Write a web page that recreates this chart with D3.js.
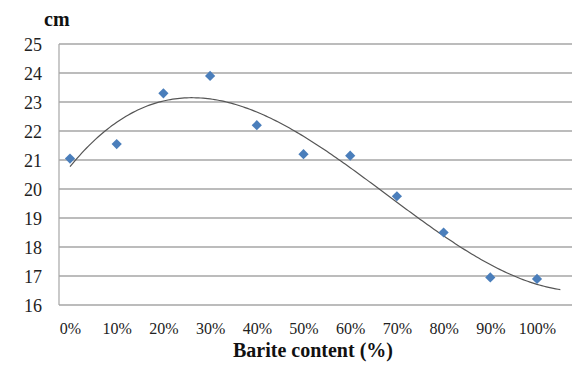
<!DOCTYPE html>
<html>
<head>
<meta charset="utf-8">
<script src="https://cdn.jsdelivr.net/npm/d3@7"></script>
<style>
  body { margin: 0; background: #fff; }
  svg { display: block; }
</style>
</head>
<body>
<div id="chart"></div>
<script>
// -DATA-
const categories = ["0%", "10%", "20%", "30%", "40%", "50%", "60%", "70%", "80%", "90%", "100%"];
const values = [21.05, 21.55, 23.3, 23.9, 22.2, 21.2, 21.15, 19.75, 18.5, 16.95, 16.9];
const yTicks = [16, 17, 18, 19, 20, 21, 22, 23, 24, 25];

// -SIZES-
const svg_w = 572;
const svg_h = 376;
const plotLeft = 59;
const plotRight = 572;
const plotTop = 44;
const plotBottom = 305;

const pointColor = "#4a7ebb";
const gridColor = "#a6a6a6";
const serif = "Liberation Serif";

// category index -> x (index 0 sits a bit right of the axis)
const xScale = d3.scaleLinear()
    .domain([0, categories.length - 1])
    .range([70, 537]);

const yScale = d3.scaleLinear()
    .domain([16, 25])
    .range([plotBottom, plotTop]);

const svg = d3.select("#chart")
    .append("svg")
    .attr("width", svg_w)
    .attr("height", svg_h)
    .attr("font-family", serif);

// -GRID-
svg.append("g")
    .selectAll("line")
    .data(yTicks)
    .enter()
    .append("line")
    .attr("x1", plotLeft)
    .attr("x2", plotRight)
    .attr("y1", d => yScale(d))
    .attr("y2", d => yScale(d))
    .attr("stroke", gridColor)
    .attr("stroke-width", 1.5);

// y axis line
svg.append("line")
    .attr("x1", plotLeft).attr("x2", plotLeft)
    .attr("y1", plotTop).attr("y2", plotBottom)
    .attr("stroke", gridColor)
    .attr("stroke-width", 1.2);

// -AXES- (labels only, no ticks)
const yAxis = d3.axisLeft(yScale).tickValues(yTicks).tickSize(0).tickPadding(0);
const gy = svg.append("g")
    .attr("transform", "translate(42,0)")
    .call(yAxis)
    .attr("font-family", serif);
gy.select(".domain").remove();
gy.selectAll("text")
    .attr("font-size", "18px")
    .attr("fill", "#222")
    .attr("dy", "0.34em");

const xAxis = d3.axisBottom(xScale)
    .tickValues(d3.range(categories.length))
    .tickFormat(i => categories[i])
    .tickSize(0)
    .tickPadding(0);
const gx = svg.append("g")
    .attr("transform", "translate(0,323)")
    .call(xAxis)
    .attr("font-family", serif);
gx.select(".domain").remove();
gx.selectAll("text")
    .attr("font-size", "16px")
    .attr("fill", "#222");

// -TRENDLINE- (cubic least squares fit of the points)
function polyFit(xs, ys, order) {
    const n = order + 1;
    const A = [];
    for (let r = 0; r < n; r++) {
        const row = [];
        for (let c = 0; c < n; c++) row.push(d3.sum(xs, x => Math.pow(x, r + c)));
        row.push(d3.sum(xs, (x, i) => ys[i] * Math.pow(x, r)));
        A.push(row);
    }
    for (let p = 0; p < n; p++) {
        let best = p;
        for (let r = p + 1; r < n; r++) if (Math.abs(A[r][p]) > Math.abs(A[best][p])) best = r;
        [A[p], A[best]] = [A[best], A[p]];
        for (let r = 0; r < n; r++) {
            if (r === p) continue;
            const f = A[r][p] / A[p][p];
            for (let c = p; c <= n; c++) A[r][c] -= f * A[p][c];
        }
    }
    return A.map((row, i) => row[n] / row[i]);
}
const xs = d3.range(categories.length);
const coef = polyFit(xs, values, 3);
const trend = x => coef.reduce((s, c, i) => s + c * Math.pow(x, i), 0);
// trendline runs half a category past the last point
const trendPts = d3.range(0, 10.5001, 0.05).map(x => [x, trend(x)]);

svg.append("path")
    .datum(trendPts)
    .attr("fill", "none")
    .attr("stroke", "#555")
    .attr("stroke-width", 1.2)
    .attr("d", d3.line().x(d => xScale(d[0])).y(d => yScale(d[1])));

// -POINTS- (diamonds)
svg.append("g")
    .selectAll("path")
    .data(values)
    .enter()
    .append("path")
    .attr("d", d3.symbol(d3.symbolSquare, 52))
    .attr("transform", (d, i) => "translate(" + xScale(i) + "," + yScale(d) + ") rotate(45)")
    .attr("fill", pointColor);

// -TITLES-
svg.append("text")
    .attr("x", 44)
    .attr("y", 26)
    .attr("font-size", "20px")
    .attr("font-weight", "bold")
    .attr("fill", "#111")
    .text("cm");

svg.append("text")
    .attr("x", 313)
    .attr("y", 357)
    .attr("text-anchor", "middle")
    .attr("font-size", "20px")
    .attr("font-weight", "bold")
    .attr("fill", "#111")
    .text("Barite content (%)");
</script>
</body>
</html>
